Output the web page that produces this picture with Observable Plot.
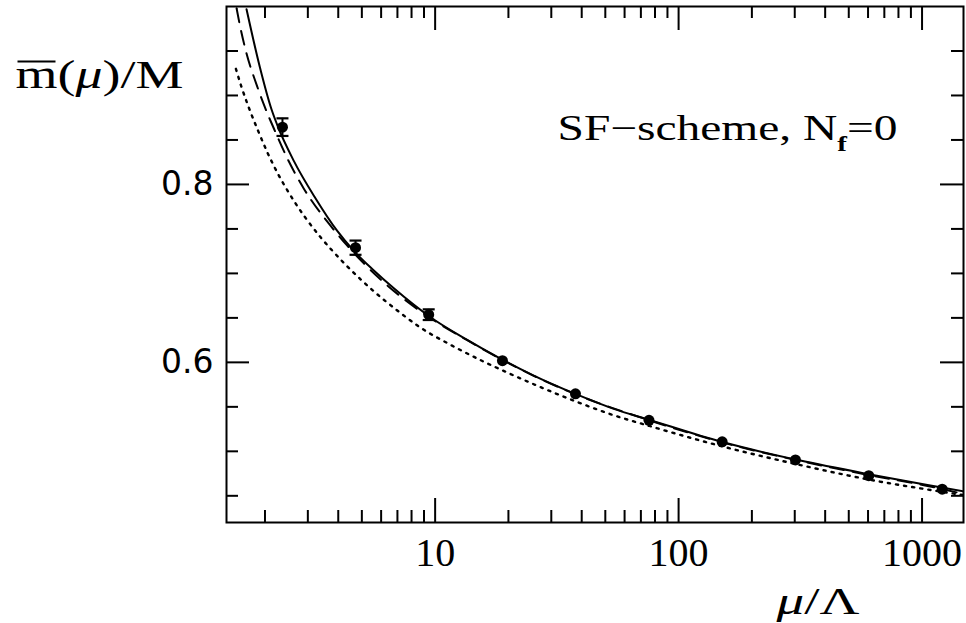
<!DOCTYPE html>
<html>
<head>
<meta charset="utf-8">
<script src="https://cdn.jsdelivr.net/npm/d3@7"></script>
<script src="https://cdn.jsdelivr.net/npm/@observablehq/plot@0.6"></script>
<style>
  html, body { margin: 0; padding: 0; background: #fff; }
  #chart svg { display: block; }
</style>
</head>
<body>
<div id="chart"></div>
<script>
// ---- data ----
const pointMu  = [2.36, 4.71, 9.41, 18.9, 37.7, 75.6, 151, 302, 604, 1210];
const pointM   = [0.8644, 0.7289, 0.6536, 0.6019, 0.5646, 0.5348, 0.5107, 0.4903, 0.4726, 0.4575];
const pointErr = [0.0099, 0.0080, 0.0060, 0, 0, 0, 0, 0, 0, 0];

const solidMu = [1.68, 1.905, 2.127, 2.245, 2.627, 3.224, 3.955, 4.627, 5.586, 6.748, 9.54, 13.49, 18.47, 25.29, 37.48, 53.8, 76.0, 150, 313, 588, 1174, 1480];
const solidM  = [0.997, 0.932, 0.8845, 0.867, 0.8265, 0.7845, 0.748, 0.7255, 0.7035, 0.6835, 0.651, 0.6255, 0.6045, 0.5854, 0.5648, 0.548, 0.5353, 0.5107, 0.4899, 0.4749, 0.4599, 0.455];

const dashedMu = [1.529, 1.578, 1.68, 1.847, 1.978, 2.21, 2.505, 2.885, 3.772, 4.346, 5.083, 6.14, 9.54, 13.49, 18.47, 25.29, 37.48, 76.0, 150, 313, 588, 1174, 1480];
const dashedM  = [0.998, 0.9787, 0.9472, 0.9122, 0.8899, 0.8586, 0.826, 0.7955, 0.7515, 0.7315, 0.7115, 0.6902, 0.650, 0.6252, 0.6042, 0.5852, 0.5645, 0.5348, 0.5103, 0.4894, 0.4740, 0.4584, 0.452];

const dottedMu = [1.519, 1.603, 1.692, 1.745, 1.859, 2.043, 2.279, 2.528, 3.379, 3.772, 4.276, 4.85, 5.415, 7.19, 8.68, 11.52, 15.78, 18.9, 26.12, 37.48, 53.8, 75.9, 150, 302, 604, 1211, 1480];
const dottedM  = [0.930, 0.9093, 0.891, 0.8812, 0.8626, 0.8364, 0.8102, 0.789, 0.7408, 0.7259, 0.7101, 0.6954, 0.6834, 0.6557, 0.6393, 0.620, 0.601, 0.591, 0.574, 0.5565, 0.5408, 0.5285, 0.5058, 0.4858, 0.4683, 0.4545, 0.4508];

const xMajorTicks = [10, 100, 1000];
const xTickLabels = ["10", "100", "1000"];
const xMinorTicks = [2, 3, 4, 5, 6, 7, 8, 9, 20, 30, 40, 50, 60, 70, 80, 90, 200, 300, 400, 500, 600, 700, 800, 900];
const yMajorTicks = [0.6, 0.8];
const yTickLabels = ["0.6", "0.8"];
const yMinorTicks = [0.45, 0.5, 0.55, 0.65, 0.7, 0.75, 0.85, 0.9, 0.95];

const annotation = ["SF\u2212scheme, N", "f", "=0"];
const yTitle = ["m", "(", "\u03bc", ")/M"];
const xTitle = ["\u03bc", "/\u039b"];

// ---- tables ----
const points = pointMu.map((x, i) => ({x, y: pointM[i], e: pointErr[i]}));
const errPoints = points.filter(d => d.e > 0);
const caps = errPoints.flatMap(d => [{x: d.x, y: d.y + d.e}, {x: d.x, y: d.y - d.e}]);
const solid = solidMu.map((x, i) => ({x, y: solidM[i]}));
const dashed = dashedMu.map((x, i) => ({x, y: dashedM[i]}));
const dotted = dottedMu.map((x, i) => ({x, y: dottedM[i]}));

// ---- layout ----
const width = 966, height = 623;
const mL = 226, mR = 3, mT = 6, mB = 101;
const FW = width - mL - mR, FH = height - mT - mB;
// horizontal bar symbol (half-width = r), used for error-bar caps and the overline of m
const barSymbol = {draw(ctx, size) { const h = Math.sqrt(size / Math.PI); ctx.moveTo(-h, 0); ctx.lineTo(h, 0); }};
const serif = "Liberation Serif, Times New Roman, serif";

const svg = Plot.plot({
  width, height,
  marginLeft: mL, marginRight: mR, marginTop: mT, marginBottom: mB,
  style: {background: "#fff", color: "#000", overflow: "visible"},
  x: {type: "log", domain: [1.39, 1480], axis: null},
  y: {domain: [0.42, 1.0], axis: null},
  marks: [
    // ticks (inward, on all four sides)
    Plot.tickX(xMajorTicks, {x: d => d, insetTop: FH - 24, stroke: "#000", strokeWidth: 2}),
    Plot.tickX(xMajorTicks, {x: d => d, insetBottom: FH - 24, stroke: "#000", strokeWidth: 2}),
    Plot.tickX(xMinorTicks, {x: d => d, insetTop: FH - 12, stroke: "#000", strokeWidth: 2}),
    Plot.tickX(xMinorTicks, {x: d => d, insetBottom: FH - 12, stroke: "#000", strokeWidth: 2}),
    Plot.tickY(yMajorTicks, {y: d => d, insetRight: FW - 23, stroke: "#000", strokeWidth: 2}),
    Plot.tickY(yMajorTicks, {y: d => d, insetLeft: FW - 23, stroke: "#000", strokeWidth: 2}),
    Plot.tickY(yMinorTicks, {y: d => d, insetRight: FW - 12, stroke: "#000", strokeWidth: 2}),
    Plot.tickY(yMinorTicks, {y: d => d, insetLeft: FW - 12, stroke: "#000", strokeWidth: 2}),
    // curves
    Plot.line(dotted, {x: "x", y: "y", stroke: "#000", strokeWidth: 2.4, strokeDasharray: "2.2,6", curve: "monotone-x", clip: true}),
    Plot.line(dashed, {x: "x", y: "y", stroke: "#000", strokeWidth: 2, strokeDasharray: "14,9", curve: "monotone-x", clip: true}),
    Plot.line(solid, {x: "x", y: "y", stroke: "#000", strokeWidth: 2, curve: "monotone-x", clip: true}),
    // data with error bars
    Plot.ruleX(errPoints, {x: "x", y1: d => d.y - d.e, y2: d => d.y + d.e, stroke: "#000", strokeWidth: 2}),
    Plot.dot(caps, {x: "x", y: "y", symbol: barSymbol, r: 6, stroke: "#000", strokeWidth: 2.2, fill: "none"}),
    Plot.dot(points, {x: "x", y: "y", r: 5.5, fill: "#000", stroke: "none"}),
    Plot.frame({stroke: "#000", strokeWidth: 2}),
    // tick labels
    Plot.text(xMajorTicks, {x: d => d, text: (d, i) => xTickLabels[i], frameAnchor: "bottom", dy: 43, lineAnchor: "bottom", textAnchor: "middle", fontSize: 40, fontFamily: serif, fill: "#000"}),
    Plot.text(yMajorTicks, {y: d => d, text: (d, i) => yTickLabels[i], frameAnchor: "left", dx: -13, lineAnchor: "middle", textAnchor: "end", fontSize: 33, fontFamily: "DejaVu Sans, sans-serif", fill: "#000"}),
    // titles / annotation
    Plot.text([yTitle.join("")], {frameAnchor: "top-left", dx: 15 - mL, dy: 87 - mT, textAnchor: "start", lineAnchor: "bottom", fontSize: 40, fontFamily: serif, fill: "#000"}),
    Plot.dot([0], {frameAnchor: "top-left", dx: 36 - mL, dy: 61 - mT, symbol: barSymbol, r: 19, stroke: "#000", strokeWidth: 2, fill: "none"}),
    Plot.text([xTitle.join("")], {frameAnchor: "bottom-left", dx: 776 - mL, dy: 613 - (height - mB), textAnchor: "start", lineAnchor: "bottom", fontSize: 38, fontFamily: serif, fill: "#000"}),
    Plot.text([annotation.join("")], {frameAnchor: "top-left", dx: 557 - mL, dy: 139 - mT, textAnchor: "start", lineAnchor: "bottom", fontSize: 36, fontFamily: serif, fill: "#000"})
  ]
});

// ---- typographic post-processing (widths, italics, subscript) ----
const NS = "http://www.w3.org/2000/svg";
const allTexts = Array.from(svg.querySelectorAll("text"));
const findText = s => allTexts.find(t => t.textContent === s);
function fit(t, w) { if (!t) return; t.setAttribute("textLength", w); t.setAttribute("lengthAdjust", "spacingAndGlyphs"); }
function rich(content, parts, w) {
  const t = findText(content);
  if (!t) return;
  t.textContent = "";
  for (const p of parts) {
    const s = document.createElementNS(NS, "tspan");
    s.textContent = p.text;
    for (const [k, v] of Object.entries(p.attr || {})) s.setAttribute(k, v);
    t.appendChild(s);
  }
  fit(t, w);
}
rich(yTitle.join(""), [
  {text: yTitle[0]},
  {text: yTitle[1]},
  {text: yTitle[2], attr: {"font-style": "italic"}},
  {text: yTitle[3]}
], 168);
rich(xTitle.join(""), [
  {text: xTitle[0], attr: {"font-style": "italic"}},
  {text: xTitle[1]}
], 83);
rich(annotation.join(""), [
  {text: annotation[0]},
  {text: annotation[1], attr: {"font-size": 22, dy: 11, "font-weight": "bold"}},
  {text: annotation[2], attr: {dy: -11}}
], 340);

document.getElementById("chart").appendChild(svg);
</script>
</body>
</html>
